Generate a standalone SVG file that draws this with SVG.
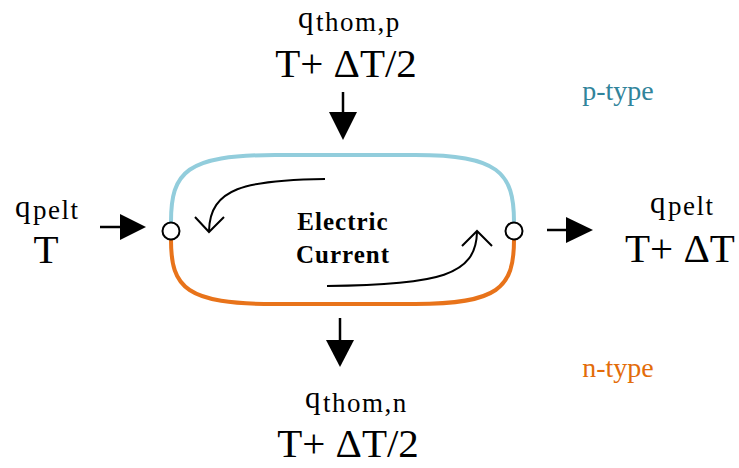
<svg xmlns="http://www.w3.org/2000/svg" width="739" height="468" viewBox="0 0 739 468">
<style>
.lbl{font-family:"Liberation Serif","Times New Roman",serif;fill:#000}
.big{font-size:41px}
.q{font-size:31px}
.sub{font-size:27px;letter-spacing:1.5px}
.cur{font-family:"Liberation Serif","Times New Roman",serif;font-weight:bold;font-size:25px;letter-spacing:1px;fill:#000}
.flow{stroke:#000;stroke-width:2.5;fill:none}
.inner{stroke:#000;stroke-width:2;fill:none}
.type{font-family:"Liberation Serif","Times New Roman",serif;font-size:28px}
</style>
<rect width="739" height="468" fill="#fff"/>
<g id="loop">
<path d="M171,222 C171,172 186,155 275,155 L415,155 C498,155 514,172 514,222" fill="none" stroke="#92cddc" stroke-width="4"/>
<path d="M171,240 C171,288 186,304 275,304 L415,304 C498,304 514,288 514,240" fill="none" stroke="#e8731a" stroke-width="4"/>
</g>
<g id="junction-left"><circle cx="171" cy="231" r="8.5" fill="#fff" stroke="#000" stroke-width="2"/></g>
<g id="junction-right"><circle cx="514" cy="231" r="8.5" fill="#fff" stroke="#000" stroke-width="2"/></g>
<g id="current">
<path class="inner" d="M325,179 C245,180 210,188 209,231"/>
<path class="inner" d="M195,217 L209,232 L224,217"/>
<path class="inner" d="M327,286 C440,285 476,275 477,232"/>
<path class="inner" d="M462,246 L477,231 L492,246"/>
<text class="cur" x="343" y="230" text-anchor="middle">Electric</text>
<text class="cur" x="343" y="263" text-anchor="middle">Current</text>
</g>
<g id="connectors">
<path class="flow" d="M343,92 L343,112"/>
<path d="M329,112 L357,112 L343,140 z" fill="#000"/>
<path class="flow" d="M100,227 L120,227"/>
<path d="M120,214 L146,227 L120,240 z" fill="#000"/>
<path class="flow" d="M547,230 L566,230"/>
<path d="M566,217 L593,230 L566,243 z" fill="#000"/>
<path class="flow" d="M340,318 L340,340"/>
<path d="M326,340 L354,340 L340,367 z" fill="#000"/>
</g>
<g id="top-label">
<text class="lbl q" x="298" y="28">q</text>
<text class="lbl sub" x="316" y="31">thom,p</text>
<text class="lbl big" x="346" y="77" text-anchor="middle">T+ ΔT/2</text>
</g>
<g id="left-label">
<text class="lbl q" x="15" y="217">q</text>
<text class="lbl sub" x="33" y="219">pelt</text>
<text class="lbl big" x="46" y="263" text-anchor="middle">T</text>
</g>
<g id="right-label">
<text class="lbl q" x="650" y="213">q</text>
<text class="lbl sub" x="668" y="215">pelt</text>
<text class="lbl big" x="680" y="262" text-anchor="middle">T+ ΔT</text>
</g>
<g id="bottom-label">
<text class="lbl q" x="305" y="408">q</text>
<text class="lbl sub" x="323" y="412">thom,n</text>
<text class="lbl big" x="348" y="457" text-anchor="middle">T+ ΔT/2</text>
</g>
<g id="types">
<text class="type" x="618" y="100" text-anchor="middle" fill="#31849b">p-type</text>
<text class="type" x="618" y="377" text-anchor="middle" fill="#e36c09">n-type</text>
</g>
</svg>
